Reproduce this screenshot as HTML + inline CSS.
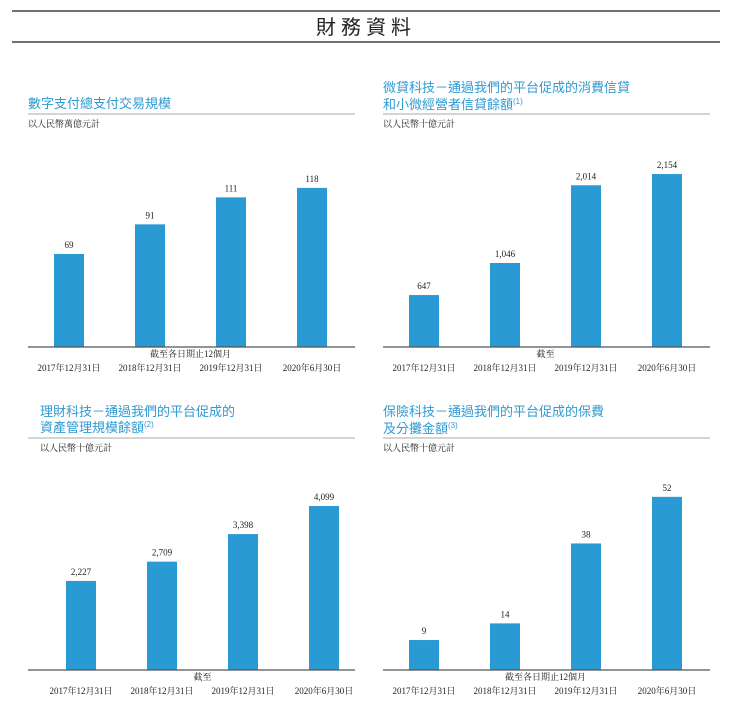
<!DOCTYPE html>
<html><head><meta charset="utf-8"><style>
body{margin:0;background:#fff;width:739px;height:709px;overflow:hidden;font-family:"Liberation Serif","Noto Serif CJK SC",serif}
svg text{font-family:"Liberation Serif","Noto Serif CJK SC",serif}
.t{font-family:"Liberation Sans","Noto Sans CJK TC",sans-serif;fill:#2e9ad3;font-size:13px}
</style></head><body>
<svg id="s" width="739" height="709">
<line x1="12" y1="11" x2="720" y2="11" stroke="#444" stroke-width="1.5"/>
<text x="366" y="34" text-anchor="middle" font-size="20" letter-spacing="5" style="font-family:'Liberation Sans','Noto Sans CJK TC',sans-serif" fill="#222">財務資料</text>
<line x1="12" y1="42" x2="720" y2="42" stroke="#444" stroke-width="1.5"/>
</svg>
<script>
const cats=["2017年12月31日","2018年12月31日","2019年12月31日","2020年6月30日"];
const valsPay=[69,91,111,118];
const valsLoan=[647,1046,2014,2154];
const valsWealth=[2227,2709,3398,4099];
const valsIns=[9,14,38,52];
const labelsPay=["69","91","111","118"];
const labelsLoan=["647","1,046","2,014","2,154"];
const labelsWealth=["2,227","2,709","3,398","4,099"];
const labelsIns=["9","14","38","52"];
const svg=document.getElementById('s');
const NS="http://www.w3.org/2000/svg";
function el(t,a,txt){const e=document.createElementNS(NS,t);for(const k in a)e.setAttribute(k,a[k]);if(txt!==undefined)e.textContent=txt;svg.appendChild(e);return e;}
const panels=[
 {id:'payment',x0:28,x1:355,titles:["數字支付總支付交易規模"],sup:"",ty:[108],rule:114,unit:"以人民幣萬億元計",base:347,scale:1.348,bx:[54,135,216,297],vals:valsPay,labs:labelsPay,sub:"截至各日期止12個月"},
 {id:'loan',x0:383,x1:710,titles:["微貸科技－通過我們的平台促成的消費信貸","和小微經營者信貸餘額"],sup:"(1)",ty:[92,109],rule:114,unit:"以人民幣十億元計",base:347,scale:0.0803,bx:[409,490,571,652],vals:valsLoan,labs:labelsLoan,sub:"截至"},
 {id:'wealth',x0:28,x1:355,titles:["理財科技－通過我們的平台促成的","資產管理規模餘額"],sup:"(2)",ty:[416,432],rule:438,unit:"以人民幣十億元計",base:670,scale:0.04,bx:[66,147,228,309],vals:valsWealth,labs:labelsWealth,sub:"截至"},
 {id:'insurance',x0:383,x1:710,titles:["保險科技－通過我們的平台促成的保費","及分攤金額"],sup:"(3)",ty:[416,433],rule:438,unit:"以人民幣十億元計",base:670,scale:3.33,bx:[409,490,571,652],vals:valsIns,labs:labelsIns,sub:"截至各日期止12個月"}
];
panels.forEach(p=>{
 p.titles.forEach((t,i)=>{
  const e=el('text',{x:p.x0+(p.id==='wealth'?12:0),y:p.ty[i],class:'t'},t);
  
  
  if(i===p.titles.length-1&&p.sup){const s=document.createElementNS(NS,'tspan');s.setAttribute('font-size','8');s.setAttribute('dy','-5');s.textContent=p.sup;e.appendChild(s);}
 });
 const r=el('line',{x1:p.x0,x2:p.x1,y1:p.rule,y2:p.rule,stroke:'#bbb','stroke-width':1.2});
 
 
 const u=el('text',{x:p.x0+(p.id==='wealth'?12:0),y:p.rule+13,'font-size':9,fill:'#222'},p.unit);
 
 
 p.vals.forEach((v,i)=>{
  const h=v*p.scale;
  const b=el('rect',{x:p.bx[i],y:p.base-h,width:30,height:h,fill:'#2a9ad4'});
  
  
  const l=el('text',{x:p.bx[i]+15,y:p.base-h-6,'text-anchor':'middle','font-size':9,fill:'#222'},p.labs[i]);
  
  
  const c=el('text',{x:p.bx[i]+15,y:p.base+24,'text-anchor':'middle','font-size':9,fill:'#222'},cats[i]);
  
  
 });
 const a=el('line',{x1:p.x0,x2:p.x1,y1:p.base,y2:p.base,stroke:'#555','stroke-width':1.2});
 
 
 const s=el('text',{x:(p.bx[1]+p.bx[2]+30)/2,y:p.base+10,'text-anchor':'middle','font-size':9,fill:'#222'},p.sub);
 
 
});
</script>
</body></html>
